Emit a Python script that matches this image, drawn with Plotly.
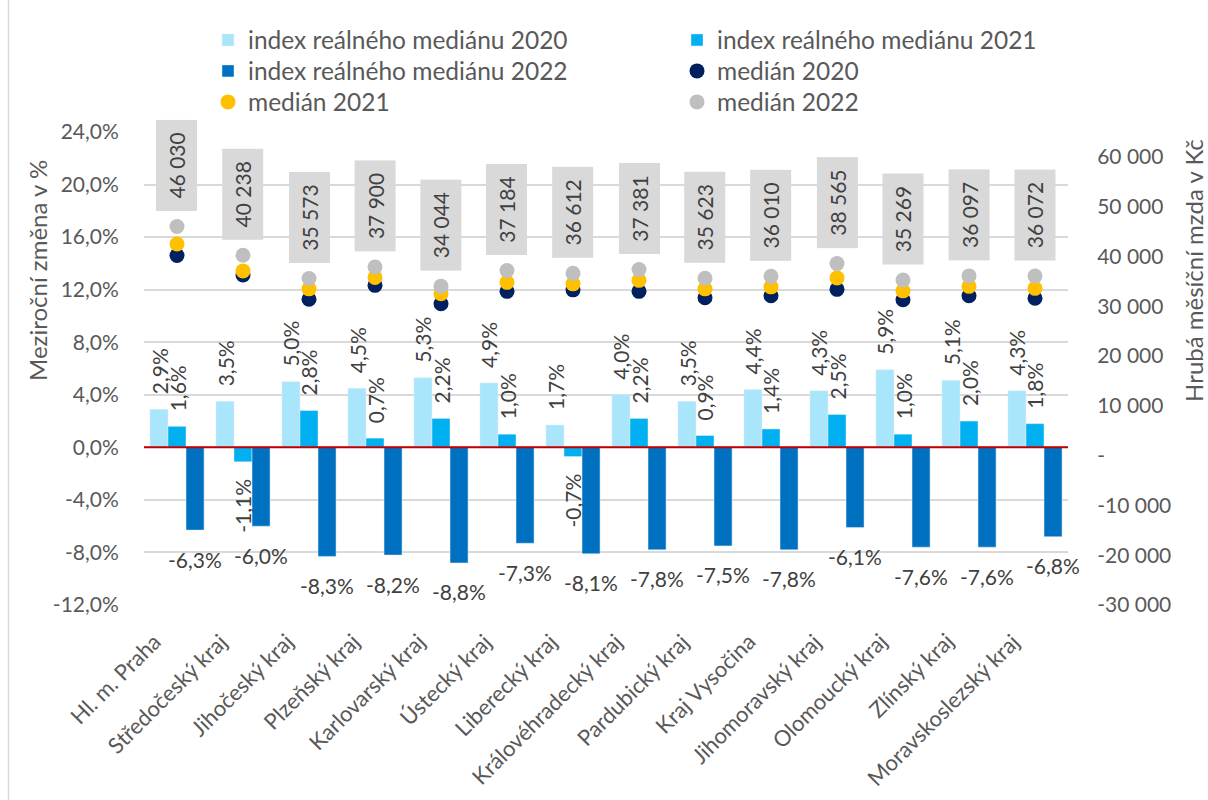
import plotly.graph_objects as go

# Regions (kraje)
regions = [
    "Hl. m. Praha", "Středočeský kraj", "Jihočeský kraj", "Plzeňský kraj",
    "Karlovarský kraj", "Ústecký kraj", "Liberecký kraj", "Královéhradecký kraj",
    "Pardubický kraj", "Kraj Vysočina", "Jihomoravský kraj", "Olomoucký kraj",
    "Zlínský kraj", "Moravskoslezský kraj",
]

# Year-on-year change of the real median wage, in %
idx2020 = [2.9, 3.5, 5.0, 4.5, 5.3, 4.9, 1.7, 4.0, 3.5, 4.4, 4.3, 5.9, 5.1, 4.3]
idx2021 = [1.6, -1.1, 2.8, 0.7, 2.2, 1.0, -0.7, 2.2, 0.9, 1.4, 2.5, 1.0, 2.0, 1.8]
idx2022 = [-6.3, -6.0, -8.3, -8.2, -8.8, -7.3, -8.1, -7.8, -7.5, -7.8, -6.1, -7.6, -7.6, -6.8]

# Gross monthly median wage, CZK
med2020 = [40200, 36300, 31400, 34200, 30500, 33000, 33300, 33000, 31700, 32100, 33400, 31300, 32100, 31600]
med2021 = [42500, 37100, 33500, 35800, 32500, 34800, 34500, 35200, 33500, 33900, 35700, 33100, 34000, 33600]
med2022 = [46030, 40238, 35573, 37900, 34044, 37184, 36612, 37381, 35623, 36010, 38565, 35269, 36097, 36072]

# Axis ticks
pct_ticks = [-12, -8, -4, 0, 4, 8, 12, 16, 20, 24]
czk_ticks = [-30000, -20000, -10000, 0, 10000, 20000, 30000, 40000, 50000, 60000]

FONT = "Lato"
AXIS_GREY = "#595959"
LABEL_GREY = "#404040"
C20, C21, C22 = "#A9E5FB", "#00B0F0", "#0070C0"

BARGAP = 0.18
BAR_W = (1 - BARGAP) / 3
PLOT_L, PLOT_T, PLOT_W, PLOT_H = 144, 132, 924, 473


def px_x(px):
    return (px - PLOT_L) / PLOT_W


def px_y(px):
    return (PLOT_T + PLOT_H - px) / PLOT_H


def pct_text(v):
    return f"{v:.1f}".replace(".", ",") + "%"


def czk_text(v):
    if v == 0:
        return "-"
    return f"{v:,}".replace(",", " ")


# Legend grid: two columns, three rows (one legend box per entry)
legend_cols = [208, 677]
legend_rows = [40, 71, 102]
legend_slots = [(c, r) for r in legend_rows for c in legend_cols]

xs = list(range(len(regions)))
fig = go.Figure()

series = [
    ("bar", "index reálného mediánu 2020", idx2020, C20),
    ("bar", "index reálného mediánu 2021", idx2021, C21),
    ("bar", "index reálného mediánu 2022", idx2022, C22),
    ("dot", "medián 2020", med2020, "#002060"),
    ("dot", "medián 2021", med2021, "#FFC000"),
    ("dot", "medián 2022", med2022, "#BFBFBF"),
]

legend_layout = {}
for k, (kind, name, vals, col) in enumerate(series):
    lg = "legend" if k == 0 else f"legend{k + 1}"
    if kind == "bar":
        fig.add_trace(go.Bar(x=xs, y=vals, name=name, marker_color=col,
                             yaxis="y", legend=lg))
    else:
        fig.add_trace(go.Scatter(x=xs, y=vals, name=name, mode="markers",
                                 marker=dict(size=15, color=col), yaxis="y2", legend=lg))
    cx, cy = legend_slots[k]
    legend_layout[lg] = dict(
        x=px_x(cx), xanchor="left", y=px_y(cy), yanchor="middle",
        font=dict(family=FONT, size=24.5, color=AXIS_GREY),
        bgcolor="rgba(0,0,0,0)", borderwidth=0,
    )

annotations = []
lab_font = dict(family=FONT, size=21, color=LABEL_GREY)

# Rotated value labels for the 2020 and 2021 bars
for vals, off in [(idx2020, -BAR_W), (idx2021, 0.0)]:
    for i, v in enumerate(vals):
        annotations.append(dict(
            x=i + off, y=v, xref="x", yref="y", text=pct_text(v), showarrow=False,
            textangle=-90, font=lab_font, xanchor="center",
            yanchor="bottom" if v >= 0 else "top", yshift=13 if v >= 0 else -15,
        ))

# Horizontal value labels below the 2022 bars
for i, v in enumerate(idx2022):
    annotations.append(dict(
        x=i + BAR_W, y=v, xref="x", yref="y", text=pct_text(v), showarrow=False,
        font=lab_font, xanchor="center", yanchor="middle", yshift=-29,
    ))

# Boxed labels for the 2022 median
for i, v in enumerate(med2022):
    annotations.append(dict(
        x=i, y=v, xref="x", yref="y2", text=czk_text(v), showarrow=False,
        textangle=-90, font=lab_font, bgcolor="#D9D9D9", xanchor="center",
        width=88, height=38, yanchor="bottom", yshift=15,
    ))

# Category labels, rotated 45°
for i, name in enumerate(regions):
    annotations.append(dict(
        x=i - 0.12, y=px_y(625), xref="x", yref="paper", text=name, showarrow=False,
        textangle=-45, xanchor="right", yanchor="top",
        font=dict(family=FONT, size=22, color=AXIS_GREY),
    ))

# Axis titles
annotations.append(dict(
    x=px_x(37), y=px_y(271), xref="paper", yref="paper",
    text="Meziroční změna v %", showarrow=False, textangle=-90,
    xanchor="center", yanchor="middle",
    font=dict(family=FONT, size=24, color=AXIS_GREY),
))
annotations.append(dict(
    x=px_x(1193), y=px_y(271), xref="paper", yref="paper",
    text="Hrubá měsíční mzda v Kč", showarrow=False, textangle=-90,
    xanchor="center", yanchor="middle",
    font=dict(family=FONT, size=24, color=AXIS_GREY),
))

fig.update_layout(
    width=1208, height=800,
    margin=dict(l=PLOT_L, r=1208 - PLOT_L - PLOT_W, t=PLOT_T, b=800 - PLOT_T - PLOT_H,
                autoexpand=False),
    paper_bgcolor="white", plot_bgcolor="white",
    font=dict(family=FONT, size=21, color=AXIS_GREY),
    barmode="group", bargap=BARGAP, bargroupgap=0,
    showlegend=True,
    xaxis=dict(
        range=[-0.5, len(regions) - 0.5], showticklabels=False,
        showgrid=False, showline=False, zeroline=False, ticks="",
    ),
    yaxis=dict(
        range=[-12, 24], tickvals=pct_ticks, ticktext=[pct_text(v) for v in pct_ticks],
        showgrid=True, gridcolor="#D9D9D9", gridwidth=1.5, zeroline=False,
        showline=False, ticks="outside", ticklen=20, tickcolor="rgba(0,0,0,0)",
        tickfont=dict(family=FONT, size=21, color=AXIS_GREY),
    ),
    yaxis2=dict(
        range=[-30000, 65000], overlaying="y", side="right",
        tickvals=czk_ticks, ticktext=[czk_text(v) for v in czk_ticks],
        showgrid=False, zeroline=False, showline=False,
        ticks="outside", ticklen=24, tickcolor="rgba(0,0,0,0)",
        tickfont=dict(family=FONT, size=21, color=AXIS_GREY),
    ),
    annotations=annotations,
    shapes=[
        # chart frame edge on the left
        dict(type="line", xref="paper", yref="paper",
             x0=px_x(8.5), x1=px_x(8.5), y0=-1, y1=1.3,
             line=dict(color="#D9D9D9", width=1.5)),
        # red baseline at 0 %, drawn over the bars
        dict(type="line", xref="paper", yref="y", x0=0, x1=1, y0=0, y1=0,
             layer="above", line=dict(color="#C00000", width=2)),
    ],
    **legend_layout,
)

fig.write_html("out.html")
